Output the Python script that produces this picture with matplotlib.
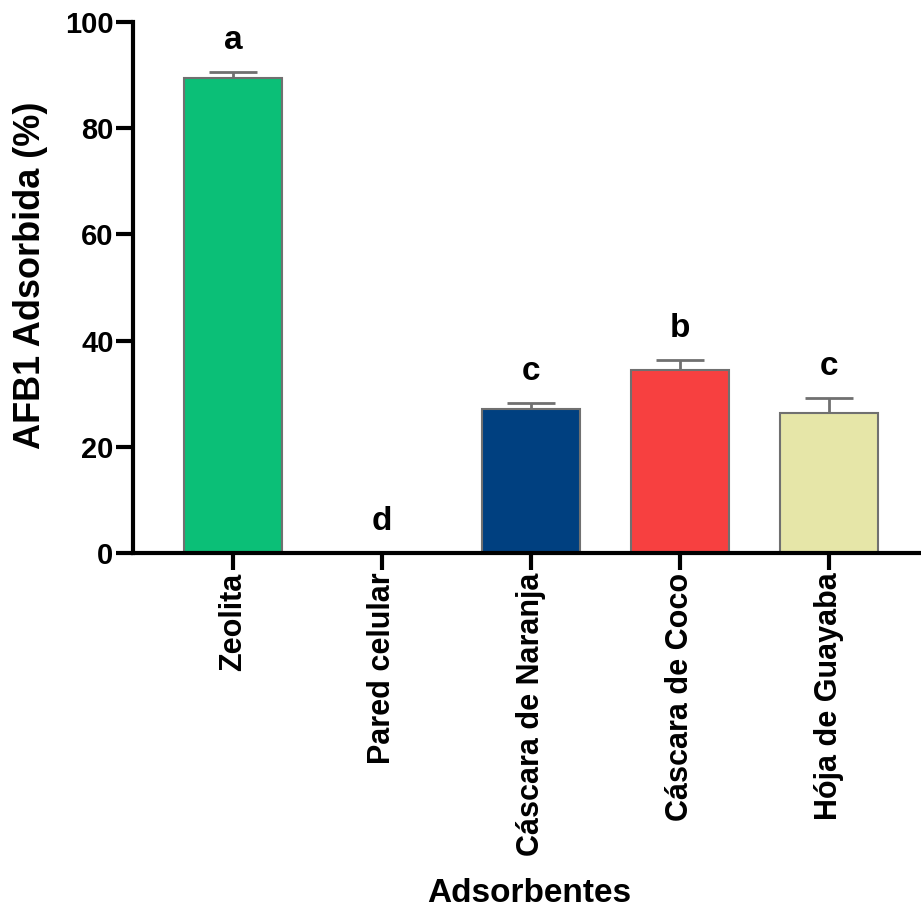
import numpy as np
import matplotlib.pyplot as plt

plt.rcParams["font.family"] = ["Liberation Sans", "DejaVu Sans"]
plt.rcParams["font.weight"] = "bold"

categories = ["Zeolita", "Pared celular", "Cáscara de Naranja", "Cáscara de Coco", "Hója de Guayaba"]
values = [89.5, 0.0, 27.2, 34.4, 26.4]
errors = [1.0, 0.0, 1.0, 1.9, 2.8]
letters = ["a", "d", "c", "b", "c"]
colors = ["#0bbf77", "#ffffff", "#004080", "#f74040", "#e6e6a8"]

fig = plt.figure(figsize=(9.21, 9.10), dpi=100)
ax = fig.add_axes([0.1444, 0.392, 0.8556, 0.584])

x = np.arange(len(categories))
ax.bar(x, values, width=0.66, color=colors, edgecolor="#707070", linewidth=1.5, zorder=2)
ax.errorbar(x[[0, 2, 3, 4]], np.array(values)[[0, 2, 3, 4]],
            yerr=[np.zeros(4), np.array(errors)[[0, 2, 3, 4]]],
            fmt="none", ecolor="#707070", elinewidth=2, capsize=17, capthick=2, zorder=1)

for xi, v, e, lab in zip(x, values, errors, letters):
    ax.text(xi, v + e + 6, lab, ha="center", va="center", fontsize=24, fontweight="bold")

ax.set_xlim(-0.671, 4.617)
ax.set_ylim(0, 100)
ax.set_yticks([0, 20, 40, 60, 80, 100])
ax.set_xticks(x)
ax.set_xticklabels(categories, rotation=90, fontsize=22, fontweight="bold")
ax.tick_params(axis="y", labelsize=21, width=3, length=12, pad=2)
ax.tick_params(axis="x", width=3, length=12, pad=2)
for lbl in ax.get_yticklabels():
    lbl.set_fontweight("bold")

ax.spines["top"].set_visible(False)
ax.spines["right"].set_visible(False)
ax.spines["left"].set_linewidth(3)
ax.spines["bottom"].set_linewidth(3)

ax.set_ylabel("AFB1 Adsorbida (%)", fontsize=26, fontweight="bold")
ax.yaxis.set_label_coords(-0.108, 0.523)
fig.text(0.575, 0.018, "Adsorbentes", ha="center", va="center", fontsize=24, fontweight="bold")

fig.savefig("out.png", dpi=100)
